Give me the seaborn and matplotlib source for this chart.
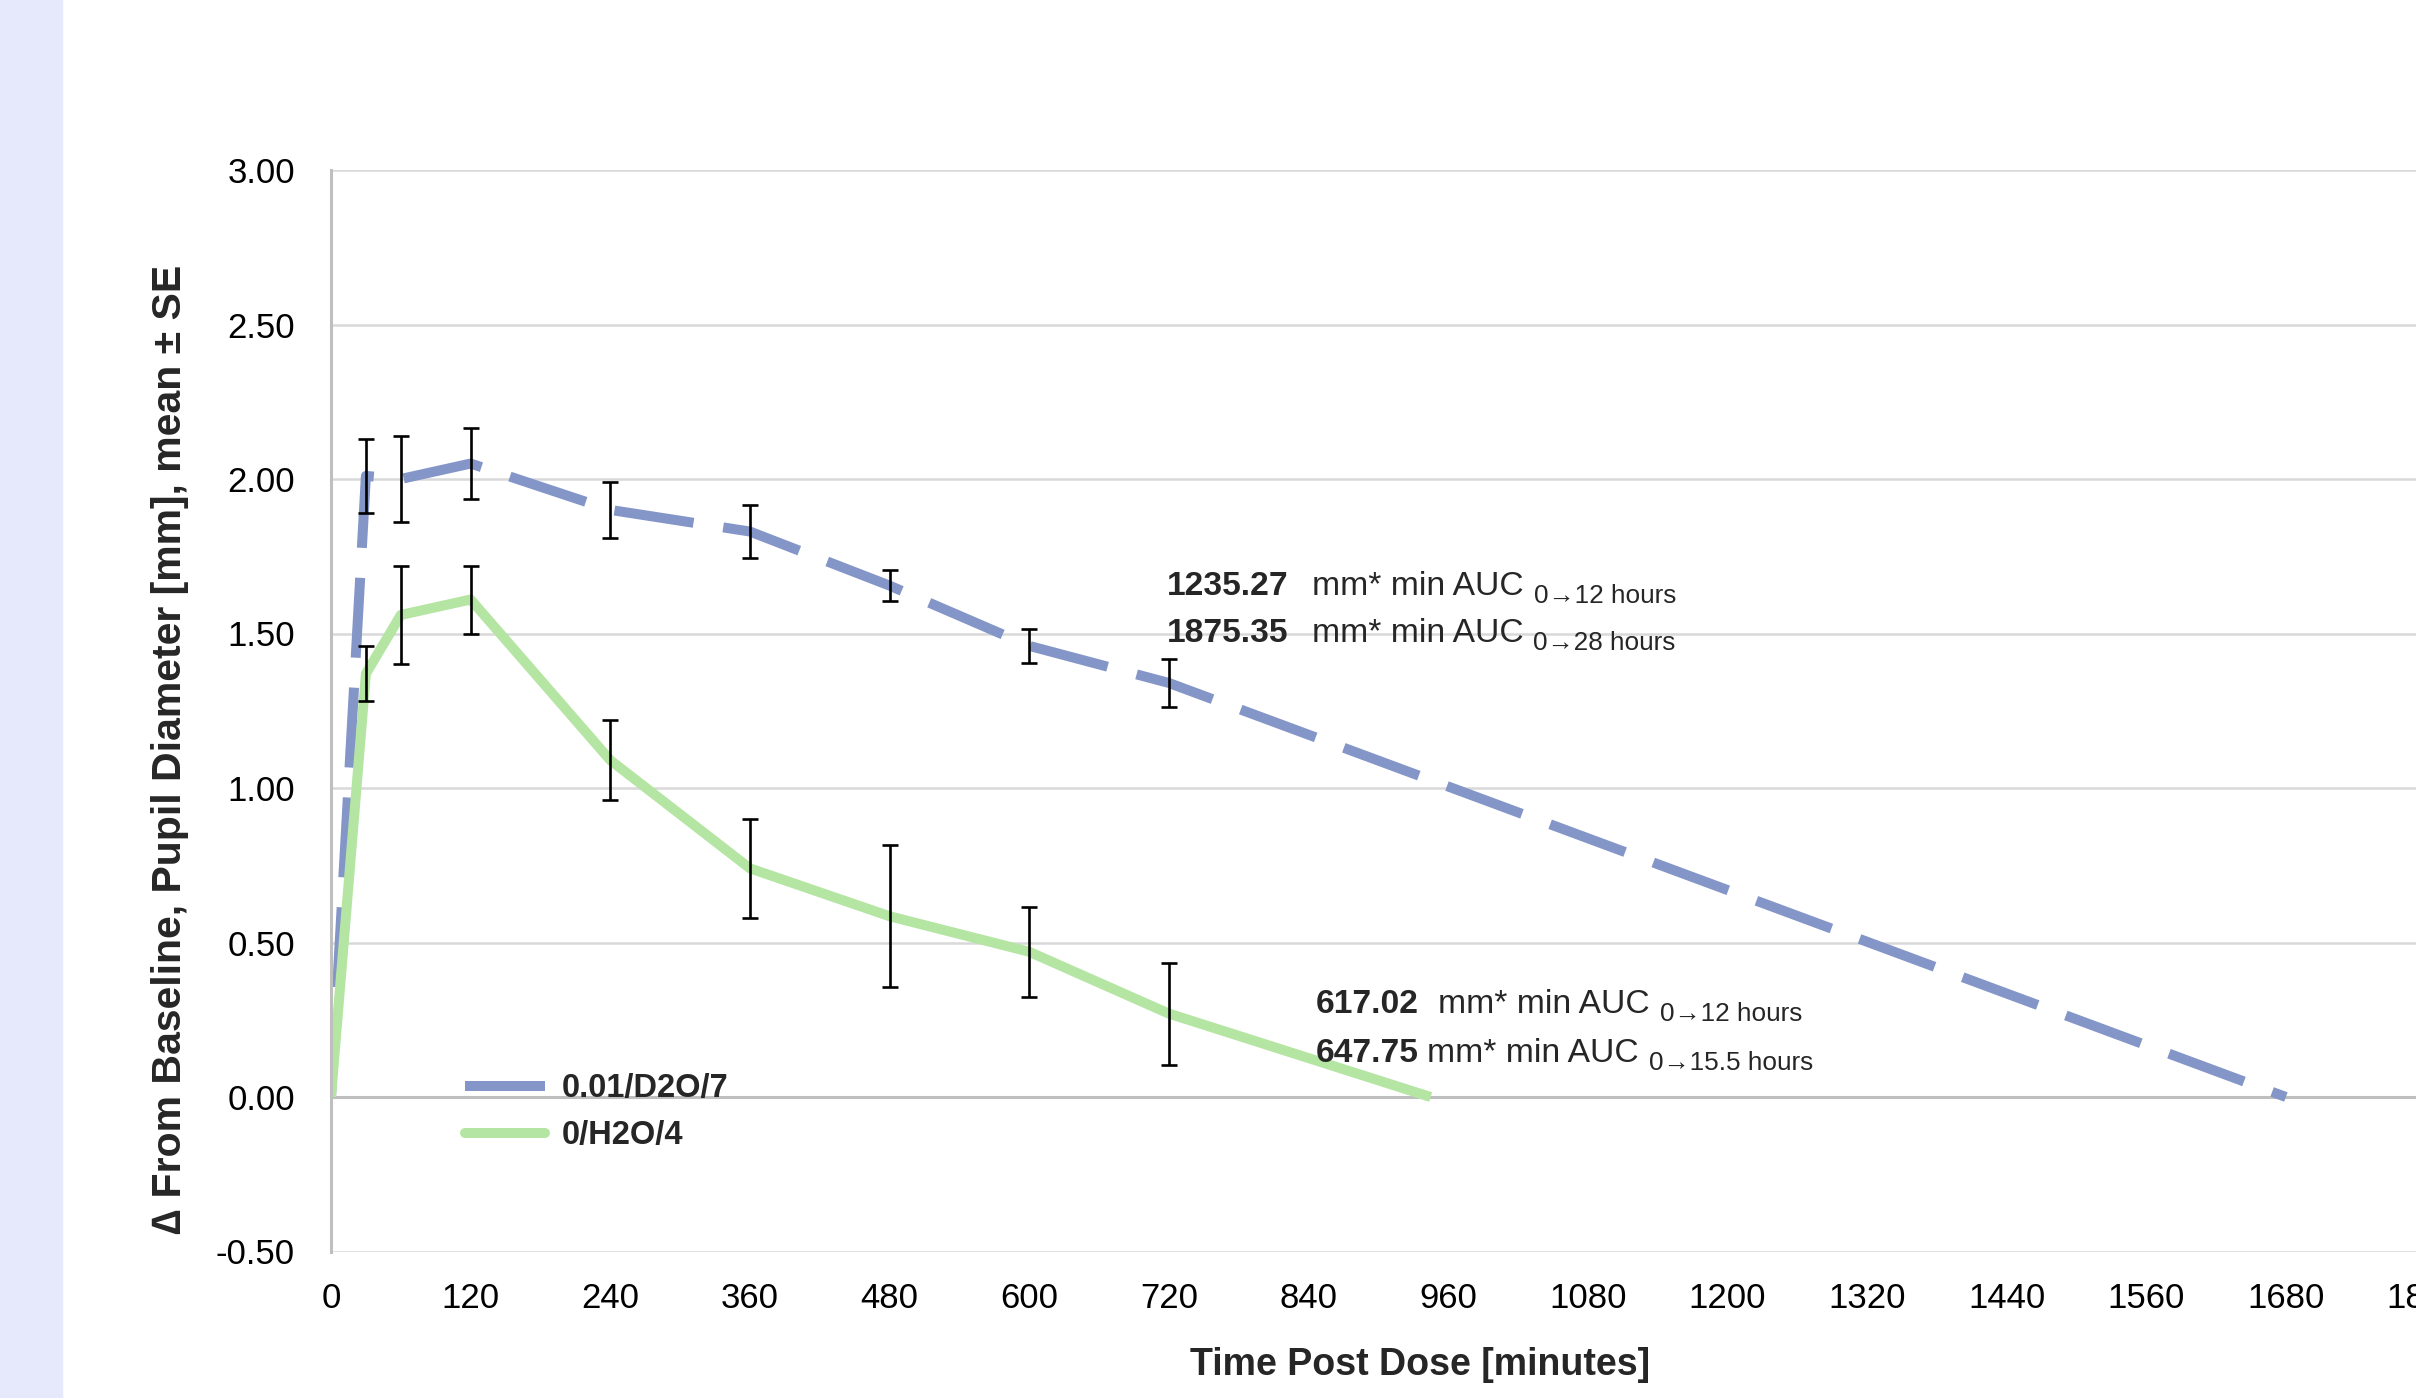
"""Pupil diameter change vs time post dose, two treatment groups."""

import numpy as np
import pandas as pd
import matplotlib
matplotlib.use("Agg")
import matplotlib.pyplot as plt
from matplotlib.patches import Rectangle
import seaborn as sns

# data
series_names = ["0.01/D2O/7", "0/H2O/4"]
times_d2o = [0, 30, 60, 120, 240, 360, 480, 600, 720, 1680]
mean_d2o = [0.00, 2.01, 2.00, 2.05, 1.90, 1.83, 1.655, 1.46, 1.34, 0.00]
se_d2o = [np.nan, 0.12, 0.14, 0.115, 0.09, 0.085, 0.05, 0.055, 0.077, np.nan]
times_h2o = [0, 30, 60, 120, 240, 360, 480, 600, 720, 945]
mean_h2o = [0.00, 1.37, 1.56, 1.61, 1.09, 0.74, 0.585, 0.47, 0.27, 0.00]
se_h2o = [np.nan, 0.09, 0.16, 0.11, 0.13, 0.16, 0.23, 0.145, 0.165, np.nan]
x_ticks = list(range(0, 1801, 120))
y_ticks = [-0.5, 0.0, 0.5, 1.0, 1.5, 2.0, 2.5, 3.0]
auc_d2o = [("1235.27", "0\u219212 hours"), ("1875.35", "0\u219228 hours")]
auc_h2o = [("617.02", "0\u219212 hours"), ("647.75", "0\u219215.5 hours")]

colors = {"0.01/D2O/7": "#8496C8", "0/H2O/4": "#B5E5A3"}
dashes = {"0.01/D2O/7": (8, 3), "0/H2O/4": ""}

sns.set_theme(style="white")
plt.rcParams["font.family"] = ["Liberation Sans", "DejaVu Sans"]
plt.rcParams["axes.unicode_minus"] = False

df = pd.concat([
    pd.DataFrame({"time": times_d2o, "value": mean_d2o, "se": se_d2o, "series": series_names[0]}),
    pd.DataFrame({"time": times_h2o, "value": mean_h2o, "se": se_h2o, "series": series_names[1]}),
], ignore_index=True)

W, H = 2416, 1398
fig = plt.figure(figsize=(W / 100, H / 100), dpi=100)
fig.add_artist(Rectangle((0, 0), 62 / W, 1, transform=fig.transFigure,
                         color="#E6E9FB", zorder=-10))

# plot area: x=0 at 331px, 1800 at 2425px (cropped), y 3.00 at 170px, -0.50 at 1251px
ax_left, ax_right, ax_top, ax_bot = 331, 2425.5, 170, 1251.5
ax = fig.add_axes([ax_left / W, 1 - ax_bot / H, (ax_right - ax_left) / W, (ax_bot - ax_top) / H])

sns.lineplot(data=df, x="time", y="value", hue="series", style="series",
             palette=colors, dashes=dashes, hue_order=series_names,
             style_order=series_names, linewidth=7.2, sort=False,
             errorbar=None, ax=ax)
for line in ax.get_lines():
    line.set_dash_capstyle("butt")
    line.set_solid_capstyle("butt")

for name in series_names:
    sub = df[df["series"] == name]
    ax.errorbar(sub["time"], sub["value"], yerr=sub["se"], fmt="none",
                ecolor="black", elinewidth=1.9, capsize=5.8, capthick=1.9, zorder=5)

ax.set_xlim(0, 1800)
ax.set_ylim(-0.5, 3.0)
ax.set_xticks(x_ticks)
ax.set_yticks(y_ticks)
ax.set_yticklabels([f"{v:.2f}" for v in y_ticks])
ax.tick_params(axis="both", length=0, labelsize=25, colors="black")
ax.tick_params(axis="y", pad=26)
ax.tick_params(axis="x", pad=22)
ax.yaxis.grid(True, color="#D9D9D9", linewidth=1.8)
ax.xaxis.grid(False)
ax.set_axisbelow(True)
for side in ["top", "right", "bottom"]:
    ax.spines[side].set_visible(False)
ax.spines["left"].set_color("#BFBFBF")
ax.spines["left"].set_linewidth(2.2)
ax.axhline(0, color="#BFBFBF", linewidth=2.2, zorder=1)

ax.set_xlabel("Time Post Dose [minutes]", fontsize=27, fontweight="bold")
ax.xaxis.label.set_va("center")
ax.xaxis.set_label_coords((1420 - ax_left) / (ax_right - ax_left), (ax_bot - 1365) / (ax_bot - ax_top))
ax.set_ylabel("\u2206 From Baseline, Pupil Diameter [mm], mean \u00b1 SE", fontsize=29.5, fontweight="bold")
ax.yaxis.label.set_va("center")
ax.yaxis.set_label_coords((170 - ax_left) / (ax_right - ax_left), (ax_bot - 749) / (ax_bot - ax_top))

sns.move_legend(ax, "upper left", bbox_to_anchor=(465 / W, 1 - 1073 / H),
                bbox_transform=fig.transFigure, frameon=False, title=None,
                borderpad=0, borderaxespad=0, handlelength=2.45, handletextpad=0.5,
                labelspacing=0.5, prop={"weight": "bold", "size": 23.5})


def px_to_data(px, py):
    x = (px - ax_left) / (ax_right - ax_left) * 1800
    y = 3.0 - (py - ax_top) / (ax_bot - ax_top) * 3.5
    return x, y


def auc_label(px, py, number, sub, gap):
    t1 = ax.text(*px_to_data(px, py), number, fontsize=24.2, fontweight="bold",
                 va="baseline", ha="left")
    t2 = ax.annotate("mm* min AUC", xy=(1, 0), xycoords=t1, xytext=(gap, 0),
                     textcoords="offset points", fontsize=24.2, va="bottom", ha="left")
    ax.annotate(sub, xy=(1, 0), xycoords=t2, xytext=(7, -4),
                textcoords="offset points", fontsize=18.8, va="bottom", ha="left")


auc_label(1167, 595, auc_d2o[0][0], auc_d2o[0][1], 17)
auc_label(1167, 642, auc_d2o[1][0], auc_d2o[1][1], 17)
auc_label(1316, 1013, auc_h2o[0][0], auc_h2o[0][1], 14)
auc_label(1316, 1062, auc_h2o[1][0], auc_h2o[1][1], 6)

fig.savefig("out.png", dpi=100)
